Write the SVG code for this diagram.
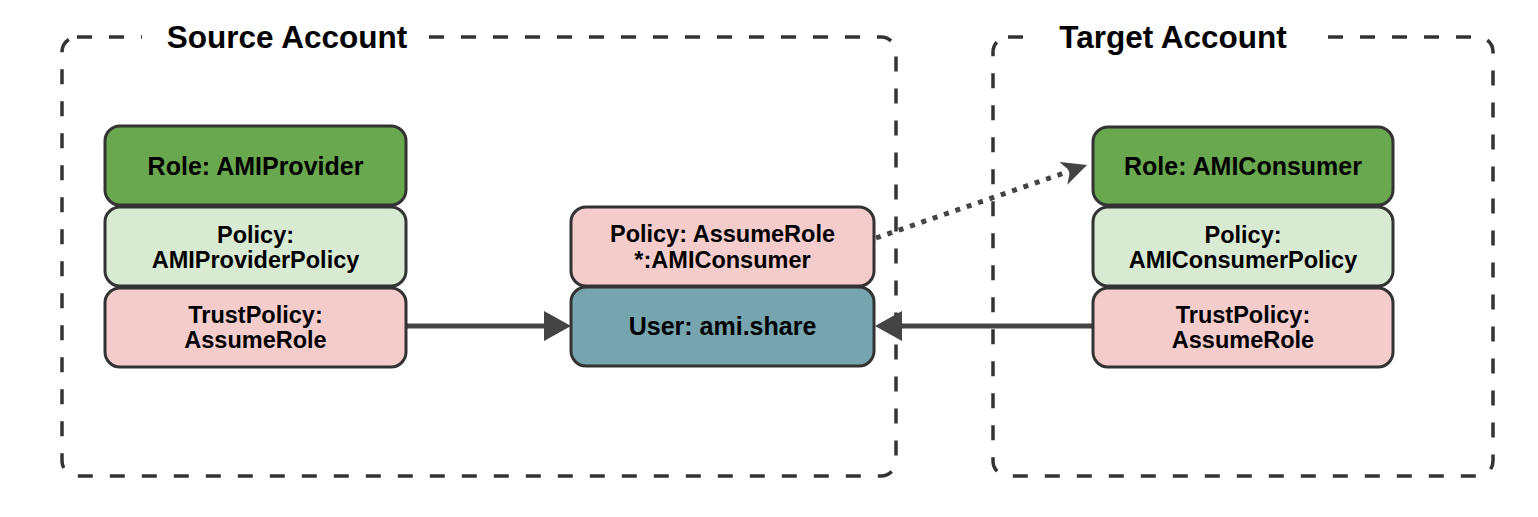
<svg xmlns="http://www.w3.org/2000/svg" width="1538" height="517" viewBox="0 0 1538 517">
  <style>
    .acct { fill: none; stroke: #333333; stroke-width: 3.5; stroke-dasharray: 15 17; }
    .acct-label { font-family: "Liberation Sans", Arial, sans-serif; font-weight: bold; font-size: 31.5px; fill: #000000; text-anchor: middle; }
    .node { stroke: #333333; stroke-width: 3; }
    .role { fill: #6aa84f; }
    .policy { fill: #d9ead3; }
    .trust { fill: #f4cccc; }
    .user { fill: #76a5af; }
    .t { font-family: "Liberation Sans", Arial, sans-serif; font-weight: bold; font-size: 23.5px; fill: #000000; text-anchor: middle; }
    .tb { font-size: 25px; }
    .conn { fill: none; stroke: #444444; stroke-width: 5; }
    .dotted { stroke-dasharray: 5 7; }
  </style>
  <defs>
    <marker id="block" viewBox="0 0 27 30" refX="0" refY="15" markerWidth="27" markerHeight="30" markerUnits="userSpaceOnUse" orient="auto">
      <path d="M0,0 L27,15 L0,30 Z" fill="#444444"/>
    </marker>
    <marker id="classic" viewBox="0 0 25 24" refX="7" refY="12" markerWidth="25" markerHeight="24" markerUnits="userSpaceOnUse" orient="auto">
      <path d="M0,0 L25,12 L0,24 L7,12 Z" fill="#444444"/>
    </marker>
  </defs>
  <rect width="1538" height="517" fill="#ffffff"/>

  <g id="source-account">
    <rect class="acct" x="62" y="37" width="834" height="439" rx="15" ry="15"/>
    <rect x="142" y="28" width="285" height="20" fill="#ffffff"/>
    <text class="acct-label" x="287" y="48">Source Account</text>
  </g>

  <g id="target-account">
    <rect class="acct" x="993" y="37" width="500" height="439" rx="15" ry="15"/>
    <rect x="1036" y="28" width="280" height="20" fill="#ffffff"/>
    <text class="acct-label" x="1173" y="48">Target Account</text>
  </g>

  <g id="connectors">
    <path class="conn" d="M406,326 L544,326" marker-end="url(#block)"/>
    <path class="conn" d="M1093,326 L902,326" marker-end="url(#block)"/>
    <path class="conn dotted" d="M876,238 L1070,171" marker-end="url(#classic)"/>
  </g>

  <g id="role-amiprovider">
    <rect class="node role" x="105" y="126" width="301" height="79" rx="15" ry="15"/>
    <text class="t tb" x="255.5" y="175">Role: AMIProvider</text>
  </g>
  <g id="policy-amiproviderpolicy">
    <rect class="node policy" x="105" y="207" width="301" height="79" rx="15" ry="15"/>
    <text class="t" x="255.5" y="243">Policy:</text>
    <text class="t" x="255.5" y="268">AMIProviderPolicy</text>
  </g>
  <g id="trustpolicy-source">
    <rect class="node trust" x="105" y="288" width="301" height="79" rx="15" ry="15"/>
    <text class="t" x="255.5" y="323">TrustPolicy:</text>
    <text class="t" x="255.5" y="348">AssumeRole</text>
  </g>

  <g id="policy-assumerole">
    <rect class="node trust" x="571" y="207" width="303" height="79" rx="15" ry="15"/>
    <text class="t" x="722.5" y="242">Policy: AssumeRole</text>
    <text class="t" x="722.5" y="268">*:AMIConsumer</text>
  </g>
  <g id="user-amishare">
    <rect class="node user" x="571" y="287" width="303" height="79" rx="15" ry="15"/>
    <text class="t tb" x="722.5" y="335">User: ami.share</text>
  </g>

  <g id="role-amiconsumer">
    <rect class="node role" x="1093" y="127" width="300" height="78" rx="15" ry="15"/>
    <text class="t tb" x="1243" y="175">Role: AMIConsumer</text>
  </g>
  <g id="policy-amiconsumerpolicy">
    <rect class="node policy" x="1093" y="207" width="300" height="79" rx="15" ry="15"/>
    <text class="t" x="1243" y="243">Policy:</text>
    <text class="t" x="1243" y="268">AMIConsumerPolicy</text>
  </g>
  <g id="trustpolicy-target">
    <rect class="node trust" x="1093" y="288" width="300" height="79" rx="15" ry="15"/>
    <text class="t" x="1243" y="323">TrustPolicy:</text>
    <text class="t" x="1243" y="348">AssumeRole</text>
  </g>
</svg>
